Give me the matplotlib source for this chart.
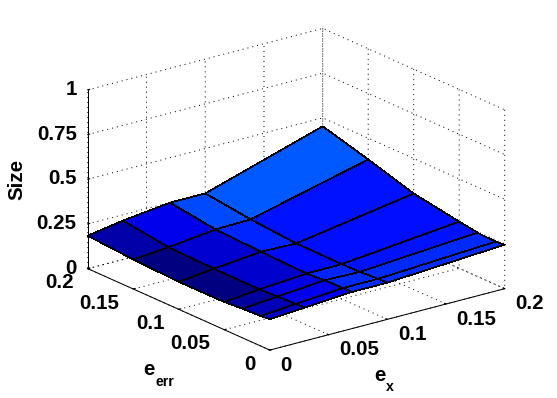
import matplotlib
matplotlib.use("Agg")
import matplotlib.pyplot as plt
import numpy as np

# handle data
e_x = [0, 0.03, 0.07, 0.1, 0.2]
e_err = [0, 0.01, 0.03, 0.05, 0.1, 0.15, 0.2]
size_0 = [0.173, 0.186, 0.205, 0.205, 0.246]
size_1 = [0.168, 0.184, 0.204, 0.204, 0.240]
size_2 = [0.163, 0.180, 0.202, 0.197, 0.245]
size_3 = [0.155, 0.174, 0.194, 0.195, 0.261]
size_4 = [0.154, 0.176, 0.202, 0.197, 0.304]
size_5 = [0.165, 0.182, 0.213, 0.218, 0.381]
size_6 = [0.184, 0.217, 0.249, 0.249, 0.4525]

x_ticks = [0, 0.05, 0.1, 0.15, 0.2]
x_labels = ["0", "0.05", "0.1", "0.15", "0.2"]
z_ticks = [0, 0.25, 0.5, 0.75, 1]
z_labels = ["0", "0.25", "0.5", "0.75", "1"]

plt.rcParams['font.family'] = ['Liberation Sans', 'DejaVu Sans']

X, Y = np.meshgrid(e_x, e_err)
Z = np.array([size_0, size_1, size_2, size_3, size_4, size_5, size_6])

W, H = 557, 398
S = 500
FS = 14.8
fig = plt.figure(figsize=(W/100, H/100), dpi=100)
ax = fig.add_axes([(289.5 - S/2)/W, (202 - S/2)/H, S/W, S/H], projection='3d',
                  proj_type='ortho', computed_zorder=False)
ax.view_init(elev=20, azim=-127.4)
ax.set_box_aspect((296, 300, 190.5), zoom=0.897)
ax.patch.set_alpha(0)

# surface, one flat colour per face
colors = plt.cm.jet((Z - Z.min())/(Z.max() - Z.min()))
ax.plot_surface(X, Y, Z, facecolors=colors, rstride=1, cstride=1, shade=False,
                edgecolor='black', linewidth=0.5, antialiased=False)

ax.set_xlim(0, 0.2, view_margin=0)
ax.set_ylim(0, 0.2, view_margin=0)
ax.set_zlim(0, 1, view_margin=0)
ax.set_xticks(x_ticks, x_labels, fontsize=FS, fontweight='bold', ha='left', va='center')
ax.set_yticks(x_ticks, x_labels, fontsize=FS, fontweight='bold', ha='right', va='center')
ax.set_zticks(z_ticks, z_labels, fontsize=FS, fontweight='bold', ha='right', va='center')
ax.tick_params(axis='x', pad=3)
ax.tick_params(axis='y', pad=3)
ax.tick_params(axis='z', pad=-3)

# matlab look for the box
for axis in (ax.xaxis, ax.yaxis, ax.zaxis):
    axis.pane.set_facecolor('white')
    axis.pane.set_edgecolor('none')
    axis.line.set_color('black')
    axis.line.set_linewidth(0.72)
    axis._axinfo['grid'].update(color='black', linewidth=0.72, linestyle=(0, (1, 4)))
    axis._axinfo['tick'].update(inward_factor=0.0, outward_factor=0.1)
ax.zaxis.set_ticks_position('upper')
ax.zaxis.set_label_position('upper')


def put(px, py, s, **kw):
    fig.text(px/W, 1 - py/H, s, fontweight='bold', **kw)


# labels
put(17, 179.5, "Size", rotation=90, fontsize=FS, ha='center', va='center')
put(143, 375, "e", fontsize=FS, ha='left', va='baseline')
put(155, 386, "err", fontsize=10.2, ha='left', va='baseline')
put(374, 381, "e", fontsize=FS, ha='left', va='baseline')
put(386, 391, "x", fontsize=10.2, ha='left', va='baseline')

# save
plt.savefig("out.png", dpi=100)
